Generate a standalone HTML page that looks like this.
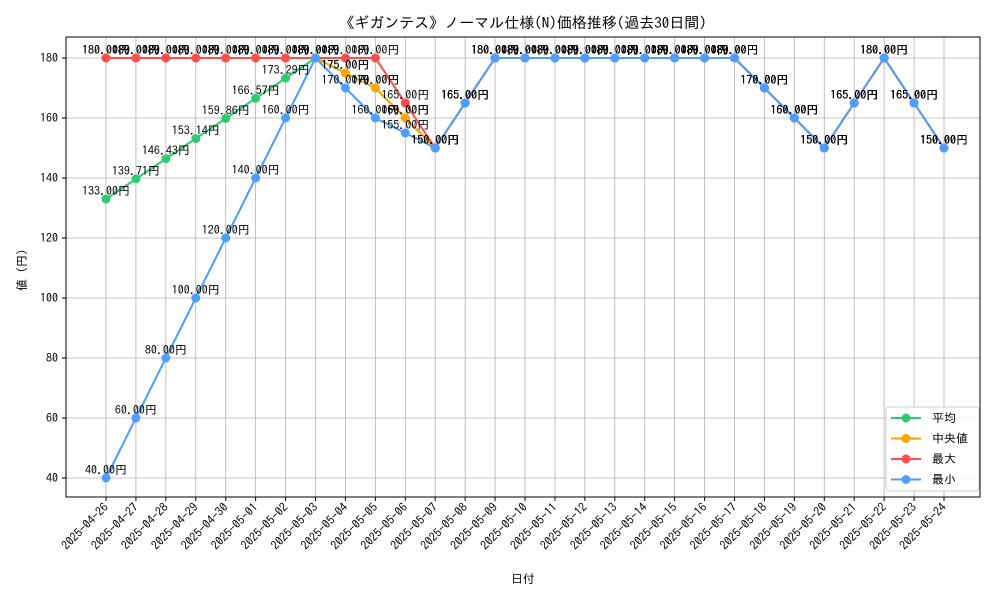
<!DOCTYPE html>
<html><head><meta charset="utf-8"><style>
body{margin:0;background:#fff}
svg text{font-family:"IPAGothic","Liberation Sans",sans-serif}
</style></head><body>
<svg id="chart" width="1000" height="600" xmlns="http://www.w3.org/2000/svg">
<rect width="1000" height="600" fill="#fff"/>
<text x="523" y="28" font-size="15" text-anchor="middle">《ギガンテス》ノーマル仕様(N)価格推移(過去30日間)</text>
<g id="grid"></g>
<rect x="66" y="37" width="914" height="460" fill="none" stroke="#000" stroke-width="1"/>
<g id="axes"></g>
<g id="series"></g>
<g id="labels"></g>
<text x="523" y="583" font-size="12" text-anchor="middle">日付</text>
<text x="26" y="267" font-size="12" text-anchor="middle" transform="rotate(-90 26 267)">値（円）</text>
<g id="legend">
<rect x="886" y="407" width="93" height="84" rx="3" fill="#fff" fill-opacity="0.85" stroke="#ccc"/>
</g>
</svg>
<script>
const dates=["2025-04-26","2025-04-27","2025-04-28","2025-04-29","2025-04-30","2025-05-01","2025-05-02","2025-05-03","2025-05-04","2025-05-05","2025-05-06","2025-05-07","2025-05-08","2025-05-09","2025-05-10","2025-05-11","2025-05-12","2025-05-13","2025-05-14","2025-05-15","2025-05-16","2025-05-17","2025-05-18","2025-05-19","2025-05-20","2025-05-21","2025-05-22","2025-05-23","2025-05-24"];
const meanVals=[133,139.71,146.43,153.14,159.86,166.57,173.29,180,175,170,160,150,165,180,180,180,180,180,180,180,180,180,170,160,150,165,180,165,150];
const medianVals=[180,180,180,180,180,180,180,180,175,170,160,150,165,180,180,180,180,180,180,180,180,180,170,160,150,165,180,165,150];
const maxVals=[180,180,180,180,180,180,180,180,180,180,165,150,165,180,180,180,180,180,180,180,180,180,170,160,150,165,180,165,150];
const minVals=[40,60,80,100,120,140,160,180,170,160,155,150,165,180,180,180,180,180,180,180,180,180,170,160,150,165,180,165,150];
const yTicks=[40,60,80,100,120,140,160,180];
const seriesNames=["平均","中央値","最大","最小"];
const NS="http://www.w3.org/2000/svg";
const X0=106,X1=944,Y0=478,Y1=58;
const xs=i=>X0+(X1-X0)*i/(dates.length-1);
const ys=v=>Y0+(Y1-Y0)*(v-40)/140;
function mk(t,p,a){const e=document.createElementNS(NS,t);for(const k in a)e.setAttribute(k,a[k]);p.appendChild(e);return e;}
const grid=document.getElementById('grid'),axes=document.getElementById('axes'),sg=document.getElementById('series'),lg=document.getElementById('labels');
yTicks.forEach(v=>{const y=ys(v);
 const l=mk('line',grid,{x1:66,x2:980,y1:y,y2:y,stroke:'#b0b0b0','stroke-width':0.8});
 
 
 mk('line',axes,{x1:62,x2:66,y1:y,y2:y,stroke:'#000'});
 const t=mk('text',axes,{x:58,y:y+4,'font-size':12,'text-anchor':'end'});t.textContent=v;
 
 
});
dates.forEach((d,i)=>{const x=xs(i);
 const l=mk('line',grid,{x1:x,x2:x,y1:37,y2:497,stroke:'#b0b0b0','stroke-width':0.8});
 
 
 mk('line',axes,{x1:x,x2:x,y1:497,y2:501,stroke:'#000'});
 const t=mk('text',axes,{x:x+3,y:508,'font-size':12,'text-anchor':'end',transform:`rotate(-45 ${x+3} 508)`});t.textContent=d;
 
 
});
const all=[meanVals,medianVals,maxVals,minVals];
const colors=["#2ecc71","#ffa500","#ff4d4d","#4d9fff"];
const keys=["mean","median","max","min"];
all.forEach((vals,s)=>{
 const p=mk('polyline',sg,{points:vals.map((v,i)=>xs(i)+','+ys(v)).join(' '),fill:'none',stroke:colors[s],'stroke-width':2});
 
 
 vals.forEach((v,i)=>{
  const c=mk('circle',sg,{cx:xs(i),cy:ys(v),r:4.5,fill:colors[s]});
  
  
  const t=mk('text',lg,{x:xs(i),y:ys(v)-4,'font-size':12,'text-anchor':'middle'});t.textContent=v.toFixed(2)+'円';
  
  
 });
});
const legend=document.getElementById('legend');
seriesNames.forEach((n,s)=>{const y=418+s*20.5;
 const l=mk('line',legend,{x1:891,x2:921,y1:y,y2:y,stroke:colors[s],'stroke-width':2});
 
 
 mk('circle',legend,{cx:906,cy:y,r:4.5,fill:colors[s]});
 const t=mk('text',legend,{x:932,y:y+4,'font-size':12});t.textContent=n;
 
 
});
</script>
</body></html>
